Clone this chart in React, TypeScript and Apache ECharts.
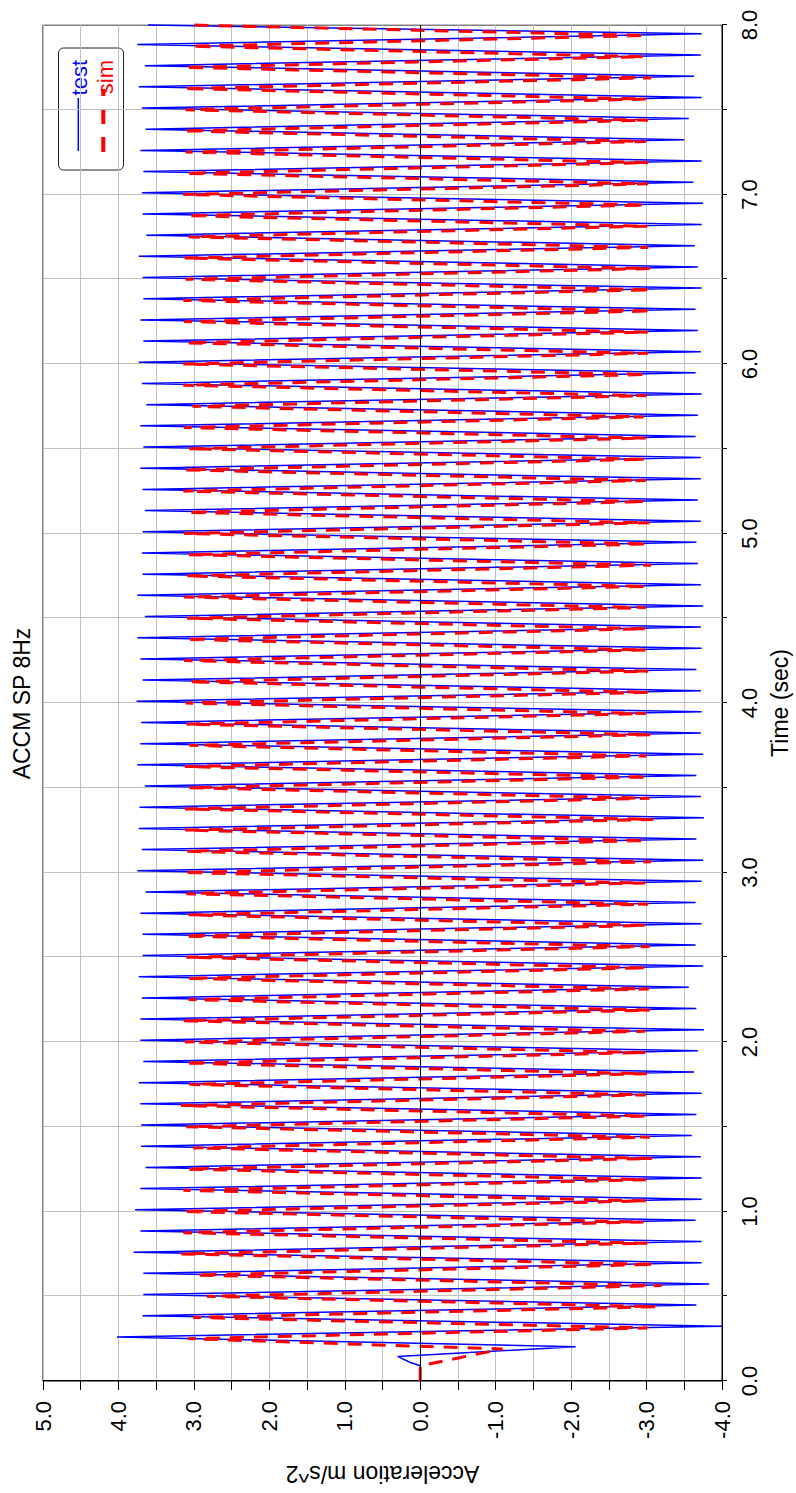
import { useEffect, useRef } from "react";
import * as echarts from "echarts";

// Landscape chart canvas; it is turned a quarter turn counter-clockwise on the page.
const CHART_W = 1493;
const CHART_H = 796;
const FONT = '"Liberation Sans", Arial, Helvetica, sans-serif';

// Start-up transient before the steady 8 Hz response (time in s, acceleration in m/s^2)
const testStartTime = [0, 0.09, 0.109, 0.145, 0.202];
const testStartAccel = [0, 0, 0.13, 0.3, -2.06];
const simStartTime = [0, 0.09, 0.189];
const simStartAccel = [0, 0, -1.09];

// Times of the successive half-cycle peaks of the measured signal (s)
const testPeakTime = [
  0.26, 0.323, 0.385, 0.448, 0.51, 0.573, 0.635, 0.698, 0.76, 0.823, 0.885, 0.948, 1.01, 1.073, 1.135, 1.198,
  1.26, 1.323, 1.385, 1.448, 1.51, 1.573, 1.635, 1.698, 1.76, 1.823, 1.885, 1.948, 2.01, 2.073, 2.135, 2.198,
  2.26, 2.323, 2.385, 2.448, 2.51, 2.573, 2.635, 2.698, 2.76, 2.823, 2.885, 2.948, 3.01, 3.073, 3.135, 3.198,
  3.26, 3.323, 3.385, 3.448, 3.51, 3.573, 3.635, 3.698, 3.76, 3.823, 3.885, 3.948, 4.01, 4.073, 4.135, 4.198,
  4.26, 4.323, 4.385, 4.448, 4.51, 4.573, 4.635, 4.698, 4.76, 4.823, 4.885, 4.948, 5.01, 5.073, 5.135, 5.198,
  5.26, 5.323, 5.385, 5.448, 5.51, 5.573, 5.635, 5.698, 5.76, 5.823, 5.885, 5.948, 6.01, 6.073, 6.135, 6.198,
  6.26, 6.323, 6.385, 6.448, 6.51, 6.573, 6.635, 6.698, 6.76, 6.823, 6.885, 6.948, 7.01, 7.073, 7.135, 7.198,
  7.26, 7.323, 7.385, 7.448, 7.51, 7.573, 7.635, 7.698, 7.76, 7.823, 7.885, 7.948, 8.0,
];

// Measured ("test") peak accelerations, m/s^2
const testPeakAccel = [
  4.02, -4.0, 3.68, -3.66, 3.67, -3.83, 3.67, -3.73, 3.8, -3.73, 3.71, -3.65, 3.78, -3.73, 3.71, -3.73,
  3.64, -3.72, 3.7, -3.6, 3.7, -3.66, 3.71, -3.73, 3.73, -3.63, 3.67, -3.68, 3.71, -3.76, 3.71, -3.66,
  3.69, -3.56, 3.73, -3.75, 3.68, -3.65, 3.68, -3.73, 3.71, -3.65, 3.64, -3.73, 3.75, -3.75, 3.69, -3.66,
  3.73, -3.76, 3.72, -3.72, 3.65, -3.66, 3.75, -3.75, 3.71, -3.72, 3.7, -3.73, 3.76, -3.72, 3.68, -3.66,
  3.71, -3.73, 3.75, -3.72, 3.65, -3.75, 3.75, -3.72, 3.68, -3.68, 3.69, -3.66, 3.68, -3.72, 3.65, -3.68,
  3.68, -3.72, 3.71, -3.72, 3.67, -3.65, 3.71, -3.68, 3.63, -3.73, 3.69, -3.65, 3.73, -3.72, 3.67, -3.68,
  3.71, -3.65, 3.67, -3.73, 3.68, -3.68, 3.73, -3.64, 3.63, -3.73, 3.68, -3.75, 3.69, -3.62, 3.67, -3.73,
  3.71, -3.5, 3.64, -3.56, 3.69, -3.73, 3.73, -3.63, 3.65, -3.72, 3.75, -3.73, 3.61,
];

// Times of the successive half-cycle peaks of the simulated signal (s)
const simPeakTime = [
  0.25, 0.313, 0.375, 0.438, 0.5, 0.563, 0.625, 0.688, 0.75, 0.813, 0.875, 0.938, 1.0, 1.063, 1.125, 1.188,
  1.25, 1.313, 1.375, 1.438, 1.5, 1.563, 1.625, 1.688, 1.75, 1.813, 1.875, 1.938, 2.0, 2.063, 2.125, 2.188,
  2.25, 2.313, 2.375, 2.438, 2.5, 2.563, 2.625, 2.688, 2.75, 2.813, 2.875, 2.938, 3.0, 3.063, 3.125, 3.188,
  3.25, 3.313, 3.375, 3.438, 3.5, 3.563, 3.625, 3.688, 3.75, 3.813, 3.875, 3.938, 4.0, 4.063, 4.125, 4.188,
  4.25, 4.313, 4.375, 4.438, 4.5, 4.563, 4.625, 4.688, 4.75, 4.813, 4.875, 4.938, 5.0, 5.063, 5.125, 5.188,
  5.25, 5.313, 5.375, 5.438, 5.5, 5.563, 5.625, 5.688, 5.75, 5.813, 5.875, 5.938, 6.0, 6.063, 6.125, 6.188,
  6.25, 6.313, 6.375, 6.438, 6.5, 6.563, 6.625, 6.688, 6.75, 6.813, 6.875, 6.938, 7.0, 7.063, 7.125, 7.188,
  7.25, 7.313, 7.375, 7.438, 7.5, 7.563, 7.625, 7.688, 7.75, 7.813, 7.875, 7.938, 8.0,
];

// Simulated ("sim") peak accelerations, m/s^2
const simPeakAccel = [
  3.08, -3.01, 3.01, -3.13, 2.83, -3.2, 2.97, -3.11, 3.17, -3.01, 3.14, -2.96, 3.14, -2.99, 3.14, -2.99,
  3.09, -3.07, 3.01, -3.04, 3.1, -3.0, 3.17, -2.99, 3.06, -3.0, 3.12, -2.99, 3.12, -2.98, 3.14, -3.04,
  3.07, -3.03, 3.1, -3.0, 3.1, -3.04, 3.12, -2.99, 3.07, -3.02, 3.1, -2.98, 3.14, -3.06, 3.1, -2.99,
  3.12, -3.09, 3.12, -3.04, 3.07, -3.02, 3.12, -3.0, 3.06, -3.06, 3.1, -2.99, 3.11, -3.04, 3.07, -3.02,
  3.13, -2.99, 3.11, -2.99, 3.09, -2.99, 3.13, -3.0, 3.11, -3.06, 3.07, -3.02, 3.13, -3.04, 3.09, -2.99,
  3.14, -2.99, 3.13, -2.99, 3.07, -2.99, 3.13, -2.96, 3.02, -3.0, 3.14, -3.0, 3.14, -3.02, 3.11, -3.02,
  3.13, -3.07, 3.14, -3.06, 3.11, -3.04, 3.13, -3.02, 3.07, -3.01, 3.09, -2.98, 3.14, -3.02, 3.11, -3.02,
  3.11, -2.99, 3.14, -3.02, 3.11, -2.99, 3.14, -3.06, 3.13, -2.96, 3.04, -2.99, 3.05,
];

const seriesNames = ["test", "sim"];
const titleText = "ACCM SP 8Hz";
const timeAxisName = "Time (sec)";
const accelAxisName = "Acceleration m/s^2";

function pairs(times: number[], values: number[]) {
  return times.map((t, i) => [t, values[i]]);
}

const oneDecimalAtWhole = (v: number) =>
  Math.abs(v - Math.round(v)) < 1e-9 ? v.toFixed(1) : "";

export default function App() {
  const ref = useRef<HTMLDivElement>(null);

  useEffect(() => {
    const el = ref.current;
    if (!el) return;
    const chart = echarts.init(el, undefined, {
      renderer: "svg",
      width: CHART_W,
      height: CHART_H,
    });

    const testData = [...pairs(testStartTime, testStartAccel), ...pairs(testPeakTime, testPeakAccel)];
    const simData = [...pairs(simStartTime, simStartAccel), ...pairs(simPeakTime, simPeakAccel)];

    // Legend box geometry (top-right corner of the plot)
    const lgX = 1323;
    const lgY = 58.5;
    const lgW = 122;
    const lgH = 65;
    const textRight = 1433;

    chart.setOption({
      animation: false,
      backgroundColor: "#ffffff",
      grid: {
        left: 111,
        right: 25,
        top: 43,
        bottom: 74,
        show: true,
        borderColor: "#000",
        borderWidth: 1,
        backgroundColor: "transparent",
      },
      xAxis: {
        type: "value",
        min: 0,
        max: 8,
        interval: 0.5,
        position: "bottom",
        name: timeAxisName,
        nameLocation: "middle",
        nameGap: 46,
        nameTextStyle: { fontSize: 23, color: "#000", fontFamily: FONT },
        axisLine: { show: true, onZero: false, lineStyle: { color: "#000", width: 1 } },
        axisTick: { show: true, length: 5, lineStyle: { color: "#000", width: 1 } },
        axisLabel: {
          formatter: oneDecimalAtWhole,
          fontSize: 22,
          color: "#000",
          fontFamily: FONT,
          margin: 16,
          showMinLabel: true,
          showMaxLabel: true,
        },
        splitLine: { show: true, lineStyle: { color: "#c0c0c0", width: 1 } },
      },
      yAxis: {
        type: "value",
        min: -4,
        max: 5,
        interval: 0.5,
        position: "left",
        name: accelAxisName,
        nameLocation: "middle",
        nameRotate: 90,
        nameGap: 81,
        nameTextStyle: { fontSize: 23, color: "#000", fontFamily: FONT },
        axisLine: { show: true, onZero: false, lineStyle: { color: "#000", width: 1 } },
        axisTick: { show: true, length: 9, lineStyle: { color: "#000", width: 1 } },
        axisLabel: {
          formatter: oneDecimalAtWhole,
          fontSize: 22,
          color: "#000",
          fontFamily: FONT,
          margin: 20,
          showMinLabel: true,
          showMaxLabel: true,
        },
        splitLine: { show: true, lineStyle: { color: "#c0c0c0", width: 1 } },
      },
      series: [
        {
          name: seriesNames[0],
          type: "line",
          data: testData,
          showSymbol: false,
          symbol: "none",
          lineStyle: { color: "#0000ff", width: 1.5 },
          itemStyle: { color: "#0000ff" },
          markLine: {
            silent: true,
            symbol: "none",
            label: { show: false },
            lineStyle: { color: "#000", width: 1, type: "solid" },
            data: [{ yAxis: 0 }],
          },
        },
        {
          name: seriesNames[1],
          type: "line",
          data: simData,
          showSymbol: false,
          symbol: "none",
          lineStyle: { color: "#ff0000", width: 3, type: [14, 10], cap: "butt" },
          itemStyle: { color: "#ff0000" },
        },
      ],
      graphic: [
        {
          type: "text",
          x: 789.5,
          y: 22,
          z: 100,
          style: {
            text: titleText,
            font: `23px ${FONT}`,
            fill: "#000",
            textAlign: "center",
            textVerticalAlign: "middle",
          },
        },
        {
          type: "group",
          z: 100,
          children: [
            {
              type: "rect",
              shape: { x: lgX, y: lgY, width: lgW, height: lgH, r: 5 },
              style: { fill: "#ffffff", stroke: "#222", lineWidth: 1 },
            },
            {
              type: "line",
              shape: { x1: 1342, y1: 78.3, x2: 1395, y2: 78.3 },
              style: { stroke: "#0000ff", lineWidth: 1.5 },
            },
            {
              type: "text",
              x: textRight,
              y: 79,
              style: {
                text: seriesNames[0],
                font: `22px ${FONT}`,
                fill: "#0000ff",
                textAlign: "right",
                textVerticalAlign: "middle",
              },
            },
            {
              type: "line",
              shape: { x1: 1341, y1: 103.3, x2: 1404, y2: 103.3 },
              style: { stroke: "#ff0000", lineWidth: 4, lineDash: [15, 13] },
            },
            {
              type: "text",
              x: textRight,
              y: 105.6,
              style: {
                text: seriesNames[1],
                font: `22px ${FONT}`,
                fill: "#ff0000",
                textAlign: "right",
                textVerticalAlign: "middle",
              },
            },
          ],
        },
      ],
    });

    return () => {
      chart.dispose();
    };
  }, []);

  return (
    <div
      ref={ref}
      style={{
        position: "absolute",
        left: 0,
        top: 0,
        width: CHART_W,
        height: CHART_H,
        background: "#ffffff",
        transformOrigin: "0 0",
        transform: `translate(0px, ${CHART_W}px) rotate(-90deg)`,
      }}
    />
  );
}
